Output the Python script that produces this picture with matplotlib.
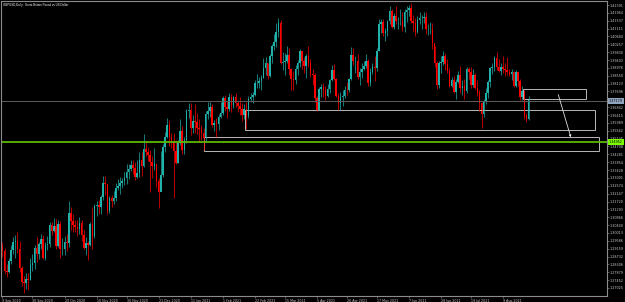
import matplotlib
matplotlib.use('agg')
import matplotlib.pyplot as plt
from matplotlib.patches import Rectangle
import numpy as np

# GBPUSD daily candles, left to right (open of each bar = previous close)
first_open = 1.2930
closes = [
    # Sep 2020
    1.2905, 1.2795, 1.2790, 1.2850, 1.2910, 1.2950, 1.2955, 1.2915, 1.2810, 1.2735, 1.2730, 1.2750, 1.2745, 1.2830, 1.2840, 1.2920,
    # Oct
    1.2885, 1.2940, 1.2970, 1.2865, 1.2935, 1.2940, 1.3045, 1.3010, 1.3040, 1.2930, 1.3050, 1.2915, 1.2915, 1.2950, 1.2945, 1.3110,
    1.3065, 1.3045, 1.3035, 1.3025, 1.3055, 1.2990, 1.2920, 1.2945,
    # Nov
    1.2935, 1.3050, 1.2985, 1.3145, 1.3155, 1.3140, 1.3195, 1.3270, 1.3265, 1.3120, 1.3190, 1.3175, 1.3190, 1.3245, 1.3255, 1.3270,
    1.3285, 1.3300, 1.3330, 1.3350, 1.3370, 1.3355, 1.3305, 1.3325,
    # Dec
    1.3395, 1.3365, 1.3455, 1.3440, 1.3425, 1.3385, 1.3365, 1.3375, 1.3285, 1.3225, 1.3315, 1.3470, 1.3525, 1.3590, 1.3520, 1.3500,
    1.3445, 1.3380, 1.3490, 1.3555, 1.3450, 1.3505, 1.3665, 1.3670,
    # Jan 2021
    1.3570, 1.3610, 1.3605, 1.3570, 1.3565, 1.3545, 1.3515, 1.3645, 1.3665, 1.3685, 1.3585, 1.3600, 1.3595, 1.3630, 1.3655, 1.3735,
    1.3685, 1.3675, 1.3740, 1.3695, 1.3740, 1.3705, 1.3690,
    # Feb
    1.3675, 1.3640, 1.3675, 1.3635, 1.3730, 1.3740, 1.3750, 1.3815, 1.3815, 1.3825, 1.3845, 1.3895, 1.3925, 1.3855, 1.3960, 1.4015,
    1.4040, 1.4095, 1.4140, 1.3925, 1.3930,
    # Mar
    1.3935, 1.3965, 1.3890, 1.3835, 1.3830, 1.3890, 1.3925, 1.3990, 1.3935, 1.3910, 1.3960, 1.3925, 1.3865, 1.3860, 1.3735, 1.3670,
    1.3785, 1.3795, 1.3775, 1.3745, 1.3785,
    # Apr
    1.3830, 1.3885, 1.3835, 1.3745, 1.3705, 1.3740, 1.3745, 1.3780, 1.3775, 1.3835, 1.3970, 1.3935, 1.3935, 1.3850, 1.3875, 1.3890,
    1.3910, 1.3935, 1.3815,
    # May
    1.3875, 1.3905, 1.3895, 1.3990, 1.4135, 1.4145, 1.4085, 1.4100, 1.4150, 1.4205, 1.4120, 1.4180, 1.4150, 1.4150, 1.4150, 1.4120,
    1.4200, 1.4210, 1.4225,
    # Jun
    1.4150, 1.4140, 1.4090, 1.4160, 1.4170, 1.4170, 1.4175, 1.4110, 1.4110, 1.4110, 1.4035, 1.3925, 1.3805, 1.3925, 1.3930, 1.3960,
    1.3920, 1.3880, 1.3800, 1.3830,
    # Jul
    1.3765, 1.3820, 1.3860, 1.3790, 1.3800, 1.3770, 1.3890, 1.3875, 1.3805, 1.3860, 1.3790, 1.3760, 1.3705, 1.3645, 1.3715, 1.3760,
    1.3820, 1.3895, 1.3905, 1.3950, 1.3905,
    # Aug
    1.3880, 1.3905, 1.3890, 1.3885, 1.3875, 1.3865, 1.3875, 1.3800, 1.3875, 1.3825, 1.3740, 1.3770, 1.3635, 1.3620, 1.3725,
]
highs = [
    1.2950, 1.2920, 1.2835, 1.2865, 1.2935, 1.2980, 1.2990, 1.3005, 1.2955, 1.2820, 1.2770, 1.2785, 1.2785, 1.2865, 1.2885, 1.2935,
    1.2980, 1.2950, 1.2995, 1.2990, 1.2950, 1.2985, 1.3060, 1.3060, 1.3085, 1.3075, 1.3070, 1.3065, 1.2975, 1.2985, 1.2995, 1.3175,
    1.3140, 1.3105, 1.3070, 1.3070, 1.3090, 1.3070, 1.3015, 1.2980,
    1.2960, 1.3060, 1.3140, 1.3160, 1.3175, 1.3180, 1.3210, 1.3310, 1.3310, 1.3265, 1.3200, 1.3210, 1.3230, 1.3275, 1.3295, 1.3305,
    1.3300, 1.3330, 1.3375, 1.3375, 1.3400, 1.3395, 1.3385, 1.3395,
    1.3440, 1.3440, 1.3540, 1.3500, 1.3470, 1.3450, 1.3420, 1.3465, 1.3375, 1.3300, 1.3445, 1.3485, 1.3550, 1.3625, 1.3615, 1.3545,
    1.3545, 1.3505, 1.3505, 1.3620, 1.3580, 1.3525, 1.3675, 1.3705,
    1.3705, 1.3640, 1.3700, 1.3650, 1.3620, 1.3590, 1.3570, 1.3665, 1.3710, 1.3710, 1.3700, 1.3615, 1.3625, 1.3645, 1.3710, 1.3745,
    1.3750, 1.3720, 1.3760, 1.3755, 1.3745, 1.3760, 1.3720,
    1.3740, 1.3705, 1.3700, 1.3710, 1.3745, 1.3760, 1.3765, 1.3830, 1.3865, 1.3850, 1.3860, 1.3950, 1.3955, 1.3925, 1.3975, 1.4030,
    1.4080, 1.4140, 1.4170, 1.4160, 1.3985,
    1.3980, 1.4015, 1.4005, 1.3895, 1.3880, 1.3915, 1.3940, 1.4000, 1.3990, 1.3955, 1.3975, 1.4015, 1.3945, 1.3890, 1.3870, 1.3745,
    1.3795, 1.3810, 1.3815, 1.3800, 1.3810,
    1.3835, 1.3915, 1.3920, 1.3845, 1.3760, 1.3765, 1.3780, 1.3800, 1.3820, 1.3845, 1.4010, 1.4005, 1.3960, 1.3975, 1.3895, 1.3925,
    1.3935, 1.3975, 1.3945,
    1.3895, 1.3925, 1.3960, 1.4005, 1.4165, 1.4165, 1.4165, 1.4115, 1.4160, 1.4235, 1.4215, 1.4195, 1.4235, 1.4175, 1.4220, 1.4200,
    1.4220, 1.4235, 1.4240,
    1.4250, 1.4185, 1.4170, 1.4180, 1.4200, 1.4185, 1.4200, 1.4200, 1.4135, 1.4145, 1.4140, 1.4015, 1.3935, 1.3935, 1.3960, 1.3990,
    1.3980, 1.3945, 1.3895, 1.3850,
    1.3855, 1.3840, 1.3880, 1.3910, 1.3830, 1.3835, 1.3905, 1.3905, 1.3905, 1.3890, 1.3870, 1.3830, 1.3775, 1.3715, 1.3730, 1.3790,
    1.3830, 1.3905, 1.3925, 1.3960, 1.3983,
    1.3945, 1.3925, 1.3960, 1.3925, 1.3955, 1.3890, 1.3890, 1.3880, 1.3885, 1.3875, 1.3835, 1.3800, 1.3775, 1.3655, 1.3745,
]
lows = [
    1.2870, 1.2780, 1.2760, 1.2785, 1.2835, 1.2885, 1.2865, 1.2895, 1.2790, 1.2715, 1.2675, 1.2695, 1.2690, 1.2745, 1.2795, 1.2805,
    1.2845, 1.2860, 1.2915, 1.2860, 1.2855, 1.2910, 1.2925, 1.2990, 1.3005, 1.2915, 1.2925, 1.2865, 1.2880, 1.2880, 1.2905, 1.2925,
    1.3020, 1.3005, 1.3005, 1.2985, 1.2995, 1.2960, 1.2915, 1.2880,
    1.2855, 1.2930, 1.2915, 1.2975, 1.3095, 1.3105, 1.3105, 1.3180, 1.3210, 1.3105, 1.3110, 1.3140, 1.3160, 1.3175, 1.3235, 1.3215,
    1.3245, 1.3260, 1.3265, 1.3295, 1.3340, 1.3320, 1.3290, 1.3300,
    1.3305, 1.3310, 1.3360, 1.3420, 1.3390, 1.3225, 1.3300, 1.3345, 1.3250, 1.3135, 1.3280, 1.3305, 1.3440, 1.3515, 1.3475, 1.3460,
    1.3190, 1.3375, 1.3380, 1.3480, 1.3430, 1.3430, 1.3490, 1.3625,
    1.3535, 1.3545, 1.3545, 1.3540, 1.3500, 1.3505, 1.3450, 1.3500, 1.3620, 1.3630, 1.3575, 1.3555, 1.3520, 1.3560, 1.3625, 1.3640,
    1.3665, 1.3625, 1.3665, 1.3660, 1.3680, 1.3685, 1.3660,
    1.3640, 1.3610, 1.3620, 1.3565, 1.3625, 1.3715, 1.3705, 1.3745, 1.3790, 1.3790, 1.3780, 1.3845, 1.3860, 1.3835, 1.3850, 1.3925,
    1.3995, 1.4010, 1.4065, 1.3920, 1.3885,
    1.3860, 1.3925, 1.3860, 1.3780, 1.3775, 1.3810, 1.3860, 1.3905, 1.3890, 1.3870, 1.3845, 1.3905, 1.3850, 1.3805, 1.3715, 1.3665,
    1.3670, 1.3740, 1.3740, 1.3725, 1.3740,
    1.3760, 1.3825, 1.3830, 1.3740, 1.3670, 1.3670, 1.3690, 1.3735, 1.3750, 1.3765, 1.3830, 1.3915, 1.3870, 1.3835, 1.3805, 1.3845,
    1.3885, 1.3895, 1.3800,
    1.3800, 1.3865, 1.3825, 1.3880, 1.3990, 1.4085, 1.4070, 1.4045, 1.4070, 1.4135, 1.4115, 1.4110, 1.4135, 1.4110, 1.4130, 1.4100,
    1.4090, 1.4145, 1.4180,
    1.4140, 1.4100, 1.4070, 1.4085, 1.4135, 1.4110, 1.4140, 1.4080, 1.4075, 1.4080, 1.4000, 1.3905, 1.3785, 1.3790, 1.3870, 1.3915,
    1.3885, 1.3870, 1.3795, 1.3795,
    1.3760, 1.3730, 1.3815, 1.3760, 1.3750, 1.3730, 1.3760, 1.3835, 1.3790, 1.3795, 1.3785, 1.3745, 1.3665, 1.3572, 1.3630, 1.3700,
    1.3735, 1.3795, 1.3865, 1.3880, 1.3885,
    1.3875, 1.3860, 1.3870, 1.3855, 1.3860, 1.3855, 1.3830, 1.3795, 1.3795, 1.3800, 1.3725, 1.3725, 1.3620, 1.3602, 1.3615,
]

# time axis labels and the bars they sit on
date_labels = ['9 Sep 2020', '30 Sep 2020', '20 Oct 2020', '10 Nov 2020', '30 Nov 2020', '21 Dec 2020',
               '11 Jan 2021', '1 Feb 2021', '22 Feb 2021', '15 Mar 2021', '5 Apr 2021', '26 Apr 2021',
               '17 May 2021', '7 Jun 2021', '28 Jun 2021', '19 Jul 2021', '9 Aug 2021']
date_label_bars = [0, 14, 29, 44, 58, 73, 88, 103, 118, 132, 147, 161, 175, 190, 205, 219, 234]

# drawn objects: horizontal lines, zones (bar from, bar to, price top, price bottom), arrow
grey_level = 1.37179
green_level = 1.34952
zones = [(113.4, 276.8, 1.36690, 1.35604),
         (94.3, 278.7, 1.35197, 1.34464),
         (243.2, 272.6, 1.37830, 1.37287)]
arrow_from = (259.5, 1.37667)
arrow_to = (266.1, 1.35061)

UP = '#20b2aa'
DOWN = '#ff0000'
FG = '#c8c8c8'

closes = np.array(closes)
highs = np.array(highs)
lows = np.array(lows)
opens = np.concatenate([[first_open], closes[:-1]])
x = np.arange(len(closes))
up = closes >= opens

fig = plt.figure(figsize=(6.25, 3.02), dpi=100, facecolor='black')
ax = fig.add_axes([0.0008, 6 / 302, 606 / 625, 295 / 302])
ax.set_facecolor('black')

# candles
ax.vlines(x[up], lows[up], highs[up], color=UP, lw=0.5)
ax.vlines(x[~up], lows[~up], highs[~up], color=DOWN, lw=0.5)
body = np.maximum(np.abs(closes - opens), 0.00008)
ax.bar(x[up], body[up], bottom=np.minimum(opens, closes)[up], width=0.72, color=UP, lw=0)
ax.bar(x[~up], body[~up], bottom=np.minimum(opens, closes)[~up], width=0.72, color=DOWN, lw=0)

# user objects
ax.axhline(grey_level, color='#5c5c5c', lw=0.7)
ax.axhline(green_level, color='#5cb800', lw=1.3)
for x0, x1, top, bot in zones:
    ax.add_patch(Rectangle((x0, bot), x1 - x0, top - bot, fill=False, ec='#b8b8b8', lw=0.7))
ax.annotate('', xy=arrow_to, xytext=arrow_from,
            arrowprops=dict(arrowstyle='-|>', color='#e0e0e0', lw=0.6, mutation_scale=3))

dx = 527 / 246
ax.set_xlim(-2 / dx, 605 / dx)
ax.set_ylim(1.265901, 1.426086)

# price scale on the right
yt = np.linspace(1.27025, 1.42391, 37)
ax.yaxis.tick_right()
ax.set_yticks(yt)
ax.set_yticklabels(['%.5f' % v for v in yt])
ax.tick_params(axis='y', colors='#9a9a9a', labelcolor=FG, labelsize=2.4, length=1.5, width=0.4, pad=0.8)

ax.set_xticks(date_label_bars)
ax.set_xticklabels(date_labels)
ax.tick_params(axis='x', colors='#9a9a9a', labelcolor=FG, labelsize=2.3, length=1.5, width=0.4, pad=0.6)
for lab in ax.get_xticklabels():
    lab.set_horizontalalignment('left')

for s in ax.spines.values():
    s.set_color('#8c8c8c')
    s.set_linewidth(0.8)

# highlighted price labels
for lvl, bg in [(grey_level, '#8fa3bd'), (green_level, '#7cfc00')]:
    ax.text(1.004, lvl, '%.5f' % lvl, transform=ax.get_yaxis_transform(), fontsize=2.4,
            color='black', va='center', ha='left',
            bbox=dict(boxstyle='square,pad=0.35', fc=bg, ec='none'))

ax.text(0.004, 0.993, 'GBPUSD,Daily : Great Britain Pound vs US Dollar', transform=ax.transAxes,
        fontsize=2.1, color='white', va='top', ha='left', family='Liberation Sans')

fig.savefig('out.png', dpi=100, facecolor='black')
